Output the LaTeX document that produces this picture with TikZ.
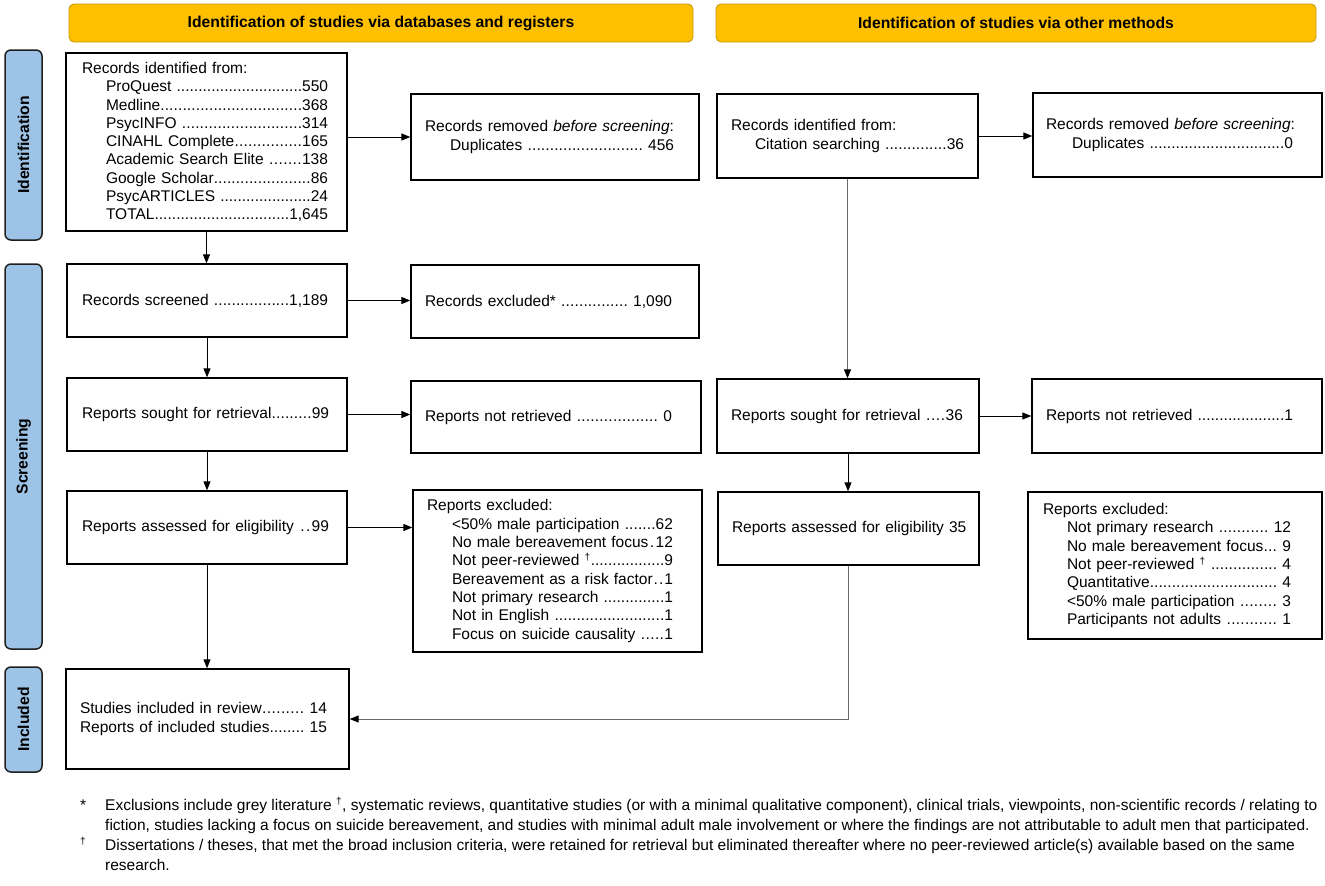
\documentclass[tikz,border=0pt]{standalone}
\usepackage{fontspec}
\setmainfont{Liberation Sans}
\usetikzlibrary{arrows.meta,calc}
\definecolor{bannerfill}{HTML}{FFC000}
\definecolor{bannerline}{HTML}{C99A06}
\definecolor{sidefill}{HTML}{9DC3E6}
\definecolor{sideline}{HTML}{1F1F1F}
\definecolor{connline}{HTML}{6A6A6A}
\newcommand\dl[3]{\hbox to #1{#2\xleaders\hbox{.}\hfill#3}}
\newcommand\subl[4]{\hspace*{#1}\dl{#2}{#3}{#4}}
\newcommand\mydag{\textsuperscript{\fontsize{10}{10}\selectfont †}}
\begin{document}
\begin{tikzpicture}[x=1pt,y=-1pt,
  box/.style={draw, line width=1.3pt, inner ysep=0pt, align=left,
    font=\fontsize{15.5}{18.3}\selectfont},
  bannerbox/.style={draw=bannerline, fill=bannerfill, line width=0.9pt, rounded corners=5pt,
    inner sep=0pt, font=\fontsize{15.7}{18}\selectfont\bfseries, minimum height=38pt},
  sidebox/.style={draw=sideline, fill=sidefill, line width=1.5pt, rounded corners=6pt,
    inner sep=0pt, font=\fontsize{15.7}{18}\selectfont\bfseries, minimum height=37pt, rotate=90},
  conn/.style={line width=1pt, -{Triangle[length=9pt,width=7pt,color=black]}},
  gconn/.style={conn, draw=connline},
]
\useasboundingbox (0,0) rectangle (1325,886);

% banners
\node[bannerbox, minimum width=624pt] (b1) at (381,23) {Identification of studies via databases and registers};
\node[bannerbox, minimum width=600pt] (b2) at (1016,23) {Identification of studies via other methods};

% side labels
\node[sidebox, minimum width=190pt] (s1) at (23.5,145) {Identification};
\node[sidebox, minimum width=385pt] (s2) at (23.5,456.5) {Screening};
\node[sidebox, minimum width=105pt] (s3) at (23.5,719.5) {Included};

% left column
\node[box, inner xsep=16pt, text width=249pt, minimum height=178pt] (A) at (206.5,142) {%
Records identified from:\\
\subl{24pt}{222pt}{ProQuest }{550}\\
\subl{24pt}{222pt}{Medline}{368}\\
\subl{24pt}{222pt}{PsycINFO }{314}\\
\subl{24pt}{222pt}{CINAHL Complete}{165}\\
\subl{24pt}{222pt}{Academic Search Elite }{138}\\
\subl{24pt}{222pt}{Google Scholar}{86}\\
\subl{24pt}{222pt}{PsycARTICLES }{24}\\
\subl{24pt}{222pt}{TOTAL}{1,645}};

\node[box, inner xsep=14pt, text width=260pt, minimum height=86pt] (B) at (555,137) {%
Records removed \textit{before screening}:\\
\subl{25pt}{224pt}{Duplicates }{\ 456}};

\node[box, inner xsep=15pt, text width=250pt, minimum height=73pt] (E) at (207,300.5) {%
\dl{246pt}{Records screened }{1,189}};

\node[box, inner xsep=14pt, text width=260pt, minimum height=73pt] (F) at (555,301.5) {%
\dl{247pt}{Records excluded* }{\ 1,090}};

\node[box, inner xsep=15pt, text width=250pt, minimum height=73pt] (G) at (207,414.5) {%
\dl{247pt}{Reports sought for retrieval}{99}};

\node[box, inner xsep=14pt, text width=262pt, minimum height=72pt] (H) at (556,417) {%
\dl{247pt}{Reports not retrieved }{\ 0}};

\node[box, inner xsep=15pt, text width=250pt, minimum height=73pt] (J) at (207,527.5) {%
\dl{247pt}{Reports assessed for eligibility }{99}};

\node[box, inner xsep=14pt, text width=261pt, minimum height=162pt] (K) at (557.5,571) {%
Reports excluded:\\
\subl{25pt}{221pt}{<50\% male participation }{62}\\
\subl{25pt}{221pt}{No male bereavement focus}{12}\\
\subl{25pt}{221pt}{Not peer-reviewed \mydag}{9}\\
\subl{25pt}{221pt}{Bereavement as a risk factor}{1}\\
\subl{25pt}{221pt}{Not primary research }{1}\\
\subl{25pt}{221pt}{Not in English }{1}\\
\subl{25pt}{221pt}{Focus on suicide causality }{1}};

\node[box, inner xsep=14pt, text width=255pt, minimum height=100pt] (O) at (207.5,719) {%
\dl{247pt}{Studies included in review}{\ 14}\\
\dl{247pt}{Reports of included studies}{\ 15}};

% right column
\node[box, inner xsep=14pt, text width=233pt, minimum height=84pt] (C) at (847.5,136) {%
Records identified from:\\
\subl{24pt}{209pt}{Citation searching }{36}};

\node[box, inner xsep=13pt, text width=263pt, minimum height=84pt] (D) at (1177.5,135) {%
Records removed \textit{before screening}:\\
\subl{26pt}{221pt}{Duplicates }{0}};

\node[box, inner xsep=14pt, text width=234pt, minimum height=74pt] (I) at (848,416) {%
\dl{232pt}{Reports sought for retrieval }{36}};

\node[box, inner xsep=14pt, text width=262pt, minimum height=74pt] (N) at (1177,416) {%
\dl{247pt}{Reports not retrieved }{1}};

\node[box, inner xsep=10pt, text width=241pt, minimum height=73pt] (L) at (848.5,528.5) {%
\hspace*{4pt}\mbox{Reports assessed for eligibility 35}};

\node[box, inner xsep=15pt, text width=264pt, minimum height=147pt] (M) at (1175,565.5) {%
Reports excluded:\\
\subl{24pt}{224pt}{Not primary research }{\ 12}\\
\subl{24pt}{224pt}{No male bereavement focus}{\ 9}\\
\subl{24pt}{224pt}{Not peer-reviewed \mydag\ }{\ 4}\\
\subl{24pt}{224pt}{Quantitative}{\ 4}\\
\subl{24pt}{224pt}{<50\% male participation }{\ 3}\\
\subl{24pt}{224pt}{Participants not adults }{\ 1}};

% connectors left
\draw[conn] (A.south) -- (A.south |- E.north);
\draw[conn] (A.east |- B.west) -- (B.west);
\draw[conn] (E.east) -- (E.east -| F.west);
\draw[conn] (E.south) -- (E.south |- G.north);
\draw[conn] (G.east) -- (G.east -| H.west);
\draw[conn] (G.south) -- (G.south |- J.north);
\draw[conn] (J.east) -- (J.east -| K.west);
\draw[conn] (J.south) -- (J.south |- O.north);
% connectors right
\draw[conn] (C.east) -- (C.east -| D.west);
\draw[gconn] (C.south) -- (C.south |- I.north);
\draw[conn] (I.east) -- (I.east -| N.west);
\draw[conn] (I.south) -- (I.south |- L.north);
\draw[gconn] (L.south -| I.south) |- (O.east);

% footnotes
\node[anchor=north west, inner sep=0pt, font=\fontsize{15.5}{20}\selectfont] (fn) at (80,796) {%
\begin{tabular}{@{}p{25pt}@{}l@{}}
* & Exclusions include grey literature \mydag, systematic reviews, quantitative studies (or with a minimal qualitative component), clinical trials, viewpoints, non-scientific records / relating to\\
  & fiction, studies lacking a focus on suicide bereavement, and studies with minimal adult male involvement or where the findings are not attributable to adult men that participated.\\
\mydag & Dissertations / theses, that met the broad inclusion criteria, were retained for retrieval but eliminated thereafter where no peer-reviewed article(s) available based on the same\\
  & research.
\end{tabular}};
\end{tikzpicture}
\end{document}
